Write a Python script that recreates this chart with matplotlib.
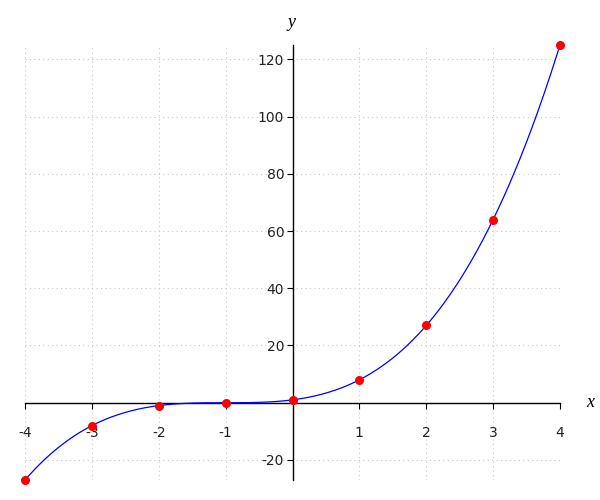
import matplotlib
matplotlib.use("Agg")
import matplotlib.pyplot as plt
import numpy as np

# data points
xs = [-4, -3, -2, -1, 0, 1, 2, 3, 4]
ys = [-27, -8, -1, 0, 1, 8, 27, 64, 125]
xticks = [-4, -3, -2, -1, 1, 2, 3, 4]
yticks = [-20, 20, 40, 60, 80, 100, 120]

fig = plt.figure(figsize=(6, 5), dpi=100)
ax = fig.add_axes([25/600, 20/500, 535/600, 435/500])

# smooth curve through the points (cubic fit of the data)
coef = np.polyfit(xs, ys, 3)
xx = np.linspace(xs[0], xs[-1], 400)
ax.plot(xx, np.polyval(coef, xx), color="blue", lw=0.9, zorder=3)
ax.plot(xs, ys, "o", color="red", ms=5.5, zorder=4, clip_on=False)

ax.set_xlim(-4, 4)
ax.set_ylim(-27, 125)
ax.set_xticks(xticks)
ax.set_yticks(yticks)
ax.set_xticklabels([str(t) for t in xticks])
ax.set_yticklabels([str(t) for t in yticks])

ax.spines["left"].set_position(("data", 0))
ax.spines["bottom"].set_position(("data", 0))
ax.spines["right"].set_visible(False)
ax.spines["top"].set_visible(False)
for s in ("left", "bottom"):
    ax.spines[s].set_linewidth(1.0)
    ax.spines[s].set_color("black")

ax.tick_params(axis="x", direction="out", length=4, pad=13, labelsize=10,
               labelcolor="#222222", color="black")
ax.tick_params(axis="y", direction="out", length=4, pad=2, labelsize=10,
               labelcolor="#222222", color="black")

ax.grid(True, color="#c8c8c8", linestyle=(0, (1, 3)), lw=0.8)

ax.text(-0.02, 130, "y", fontsize=13, style="italic", family="Liberation Serif",
        ha="center", va="bottom")
ax.text(4.45, 0, "x", fontsize=13, style="italic", family="Liberation Serif",
        ha="center", va="center", clip_on=False)

fig.savefig("out.png", dpi=100)
